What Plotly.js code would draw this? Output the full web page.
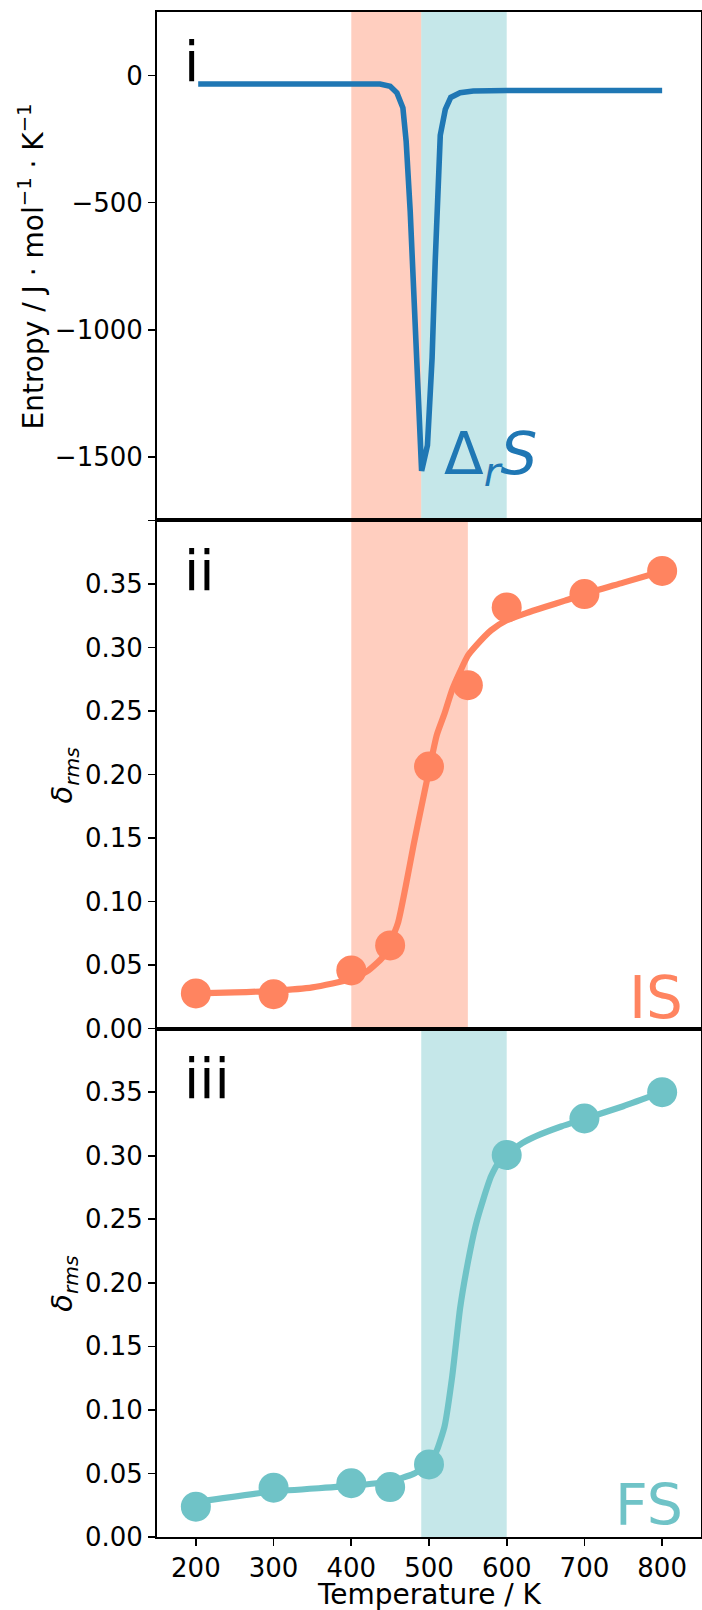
<!DOCTYPE html>
<html>
<head>
<meta charset="utf-8">
<script src="https://cdn.plot.ly/plotly-3.0.1.min.js"></script>
<style>
  html, body { margin: 0; padding: 0; background: #ffffff; }
  #chart { width: 702px; height: 1610px; }
</style>
</head>
<body>
<div id="chart"></div>
<script>
// Reaction entropy across the transition (panel i)
const entropyT = [203, 300, 400, 437, 450, 458.7, 466.4, 470.6, 475.8, 480, 484.4, 488.6, 490.5, 498, 504, 508, 511, 514.5, 521, 528, 540, 557, 600, 700, 800];
const entropyS = [-33, -33, -33, -33, -42, -68, -127, -258, -533, -861, -1124, -1425, -1555, -1455, -1110, -730, -470, -235, -133, -86, -68, -61, -59, -59, -59];

// Initial state: sampled delta_rms and its smooth fit (panel ii)
const isT = [200, 300, 400, 450, 500, 550, 600, 700, 800];
const isVal = [0.0277, 0.0271, 0.0458, 0.0655, 0.2062, 0.2703, 0.3315, 0.342, 0.3602];
const isFitT = [200, 250, 300, 350, 400, 420, 440, 450, 460, 470, 480, 490, 500, 510, 520, 530, 540, 550, 560, 580, 600, 625, 650, 675, 700, 750, 800];
const isFitVal = [0.0277, 0.0285, 0.0298, 0.0325, 0.0392, 0.045, 0.056, 0.068, 0.083, 0.112, 0.144, 0.174, 0.203, 0.231, 0.248, 0.267, 0.281, 0.2935, 0.301, 0.3135, 0.3213, 0.327, 0.332, 0.3368, 0.342, 0.351, 0.360];

// Final state: sampled delta_rms and its smooth fit (panel iii)
const fsT = [200, 300, 400, 450, 500, 600, 700, 800];
const fsVal = [0.0239, 0.0388, 0.0423, 0.0393, 0.0571, 0.3006, 0.3293, 0.35];
const fsFitT = [200, 300, 400, 450, 480, 500, 510, 520, 530, 540, 550, 560, 570, 580, 590, 600, 620, 640, 670, 700, 750, 800];
const fsFitVal = [0.0275, 0.0358, 0.0402, 0.0438, 0.0497, 0.0576, 0.068, 0.087, 0.127, 0.18, 0.216, 0.245, 0.266, 0.284, 0.295, 0.301, 0.310, 0.316, 0.323, 0.329, 0.339, 0.35];

// Temperature windows of the two transitions
const isWindow = [400, 490];
const fsWindow = [490, 600];
const isWindowWide = [400, 550];

// Tick labels
const tempTicks = [200, 300, 400, 500, 600, 700, 800];
const entropyTicks = [-1500, -1000, -500, 0];
const rmsTicks = [0, 0.05, 0.10, 0.15, 0.20, 0.25, 0.30, 0.35, 0.40];
const rmsTickText = ['0.00', '0.05', '0.10', '0.15', '0.20', '0.25', '0.30', '0.35', ' '];
const entropyTickText = entropyTicks.map(v => (v < 0 ? '\u2212' + Math.abs(v) : String(v)));

const BLUE = '#1f77b4';
const CORAL = '#ff8460';
const TEAL = '#6fc3c7';
const CORAL_BAND = 'rgba(255,132,96,0.4)';
const TEAL_BAND = 'rgba(111,195,199,0.4)';
const FONT = 'DejaVu Sans';
const LW = 6.2;
const MS = 30;

const traces = [
  { x: entropyT, y: entropyS, xaxis: 'x', yaxis: 'y', mode: 'lines',
    line: { color: BLUE, width: 5.6 }, hoverinfo: 'skip' },
  { x: isFitT, y: isFitVal, xaxis: 'x2', yaxis: 'y2', mode: 'lines',
    line: { color: CORAL, width: LW, shape: 'spline', smoothing: 0.6 }, hoverinfo: 'skip' },
  { x: isT, y: isVal, xaxis: 'x2', yaxis: 'y2', mode: 'markers',
    marker: { color: CORAL, size: MS, line: { width: 0 } } },
  { x: fsFitT, y: fsFitVal, xaxis: 'x3', yaxis: 'y3', mode: 'lines',
    line: { color: TEAL, width: LW, shape: 'spline', smoothing: 0.5 }, hoverinfo: 'skip' },
  { x: fsT, y: fsVal, xaxis: 'x3', yaxis: 'y3', mode: 'markers',
    marker: { color: TEAL, size: MS, line: { width: 0 } } }
];

function band(range, xref, yref, color) {
  return { type: 'rect', xref: xref, yref: yref + ' domain', x0: range[0], x1: range[1],
           y0: 0, y1: 1, fillcolor: color, line: { width: 0 }, layer: 'below' };
}

const axisCommon = {
  showline: true, mirror: true, linecolor: '#000', linewidth: 2,
  showgrid: false, zeroline: false,
  ticks: 'outside', ticklen: 7, tickwidth: 1.6, tickcolor: '#000',
  tickfont: { family: FONT, size: 26, color: '#000' }
};

function xAxis(anchor, showLabels) {
  return Object.assign({}, axisCommon, {
    anchor: anchor, range: [150, 850], tickmode: 'array', tickvals: tempTicks,
    showticklabels: showLabels, ticks: showLabels ? 'outside' : ''
  });
}

const layout = {
  width: 702, height: 1610,
  margin: { l: 157, r: 1, t: 12, b: 73 },
  paper_bgcolor: '#fff', plot_bgcolor: '#fff',
  showlegend: false,
  font: { family: FONT, color: '#000' },
  xaxis: xAxis('y', false),
  xaxis2: xAxis('y2', false),
  xaxis3: xAxis('y3', true),
  yaxis: Object.assign({}, axisCommon, {
    domain: [2 / 3, 1], anchor: 'x', range: [-1750, 250],
    tickmode: 'array', tickvals: entropyTicks, ticktext: entropyTickText
  }),
  yaxis2: Object.assign({}, axisCommon, {
    domain: [1 / 3, 2 / 3], anchor: 'x2', range: [0, 0.4],
    tickmode: 'array', tickvals: rmsTicks, ticktext: rmsTickText
  }),
  yaxis3: Object.assign({}, axisCommon, {
    domain: [0, 1 / 3], anchor: 'x3', range: [0, 0.4],
    tickmode: 'array', tickvals: rmsTicks, ticktext: rmsTickText
  }),
  shapes: [
    band(isWindow, 'x', 'y', CORAL_BAND),
    band(fsWindow, 'x', 'y', TEAL_BAND),
    band(isWindowWide, 'x2', 'y2', CORAL_BAND),
    band(fsWindow, 'x3', 'y3', TEAL_BAND)
  ],
  annotations: [
    // panel tags
    { text: 'i', xref: 'x domain', yref: 'y domain', x: 0.0465, y: 0.901,
      xanchor: 'left', yanchor: 'middle', showarrow: false,
      font: { family: FONT, size: 55, color: '#000' } },
    { text: 'ii', xref: 'x2 domain', yref: 'y2 domain', x: 0.0465, y: 0.901,
      xanchor: 'left', yanchor: 'middle', showarrow: false,
      font: { family: FONT, size: 55, color: '#000' } },
    { text: 'iii', xref: 'x3 domain', yref: 'y3 domain', x: 0.0465, y: 0.901,
      xanchor: 'left', yanchor: 'middle', showarrow: false,
      font: { family: FONT, size: 55, color: '#000' } },
    // series labels
    { text: '\u0394<sub><i>r</i></sub><i>S</i>', xref: 'x', yref: 'y', x: 517, y: -1505,
      xanchor: 'left', yanchor: 'middle', showarrow: false,
      font: { family: FONT, size: 58, color: BLUE } },
    { text: 'IS', xref: 'x2', yref: 'y2', x: 830, y: 0.0245,
      xanchor: 'right', yanchor: 'middle', showarrow: false,
      font: { family: FONT, size: 58, color: CORAL } },
    { text: 'FS', xref: 'x3', yref: 'y3', x: 830, y: 0.0255,
      xanchor: 'right', yanchor: 'middle', showarrow: false,
      font: { family: FONT, size: 57, color: TEAL } },
    // axis titles
    { text: 'Entropy / J \u00b7 mol<sup>\u22121</sup> \u00b7 K<sup>\u22121</sup>',
      xref: 'paper', yref: 'y domain', x: -0.2311, y: 0.5, textangle: -90,
      xanchor: 'center', yanchor: 'middle', showarrow: false,
      font: { family: FONT, size: 28, color: '#000' } },
    { text: '<i>\u03b4</i><sub><i>rms</i></sub>',
      xref: 'paper', yref: 'y2 domain', x: -0.171, y: 0.5, textangle: -90,
      xanchor: 'center', yanchor: 'middle', showarrow: false,
      font: { family: FONT, size: 29, color: '#000' } },
    { text: '<i>\u03b4</i><sub><i>rms</i></sub>',
      xref: 'paper', yref: 'y3 domain', x: -0.171, y: 0.5, textangle: -90,
      xanchor: 'center', yanchor: 'middle', showarrow: false,
      font: { family: FONT, size: 29, color: '#000' } },
    { text: 'Temperature / K', xref: 'x3 domain', yref: 'paper', x: 0.5, y: -0.0375,
      xanchor: 'center', yanchor: 'middle', showarrow: false,
      font: { family: FONT, size: 28, color: '#000' } }
  ]
};

Plotly.newPlot('chart', traces, layout, { staticPlot: true, displayModeBar: false });
</script>
</body>
</html>
